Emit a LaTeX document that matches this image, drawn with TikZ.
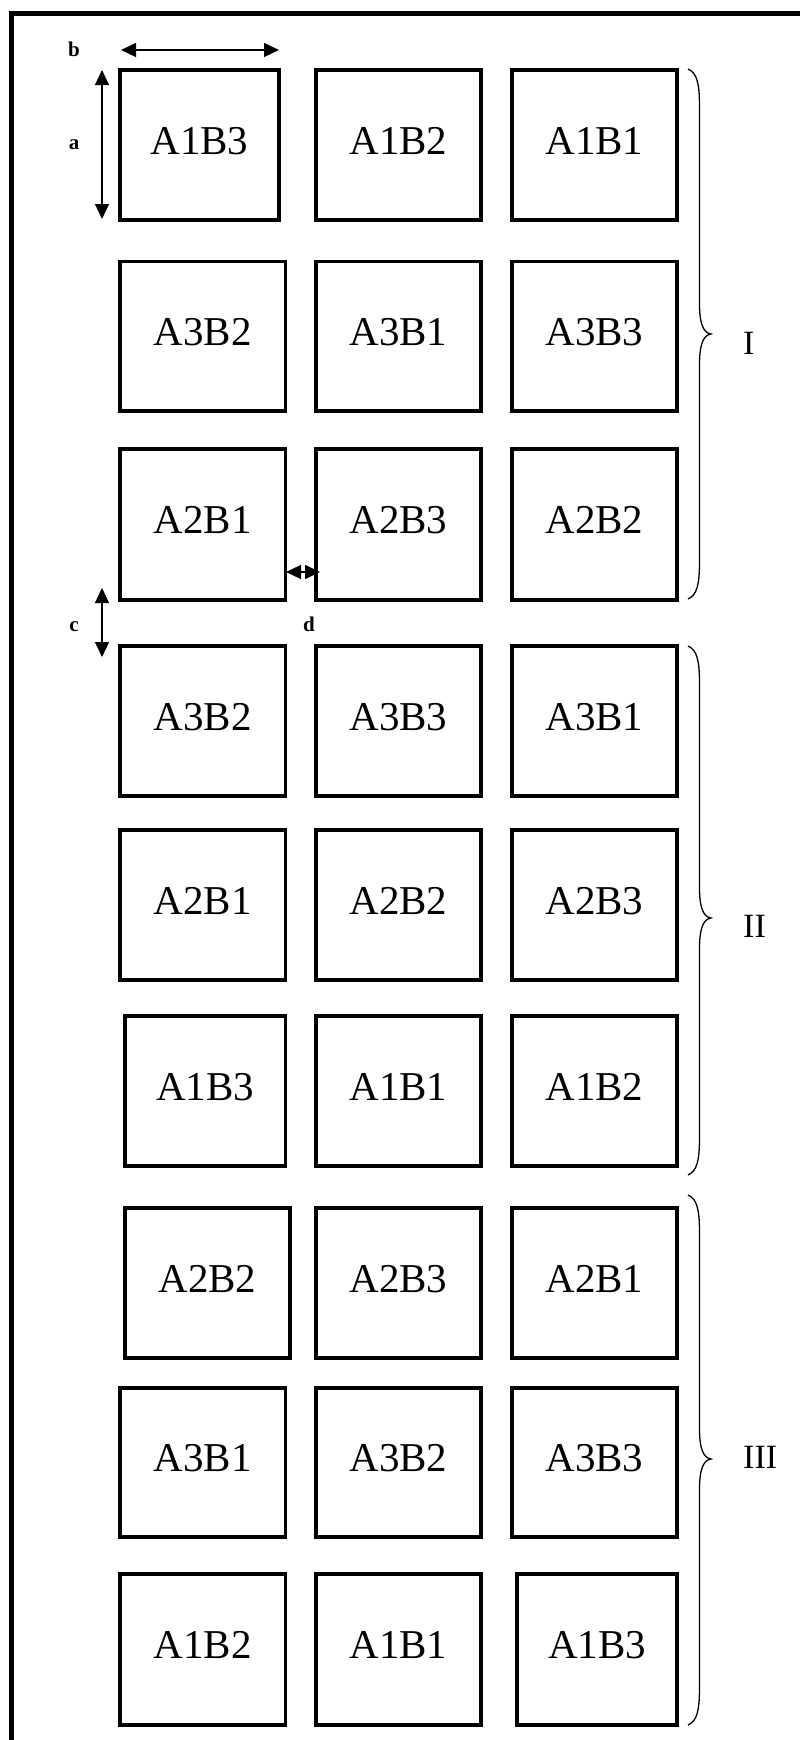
\documentclass[tikz,border=0pt]{standalone}
\usepackage{fontspec}
\setmainfont{Liberation Serif}
\usetikzlibrary{arrows.meta}
\newcommand{\plotcell}[6]{%
  \node[cell, minimum width={(#4-#2)*1pt}, minimum height={(#5-#3)*1pt}] (#1) at ({(#2+#4)/2},{(#3+#5)/2}) {#6};}
\newcommand{\grpbrace}[3]{%
  \draw[brace] (688,#1) .. controls (697,#1+4) and (699.5,#1+14) .. (699.5,#1+38)
    -- (699.5,#2-30) .. controls (699.5,#2-9) and (704,#2-1) .. (711,#2)
    .. controls (704,#2+1) and (699.5,#2+9) .. (699.5,#2+30)
    -- (699.5,#3-38) .. controls (699.5,#3-14) and (697,#3-4) .. (688,#3);}
\begin{document}
\begin{tikzpicture}[x=1pt,y=-1pt,
  cell/.style={draw, line width=3.3pt, inner sep=0pt, font=\fontsize{41}{48}\selectfont, text height=28pt, text depth=10pt},
  dim/.style={line width=1.2pt, {Triangle[length=15pt,width=14pt]}-{Triangle[length=15pt,width=14pt]}},
  dimlabel/.style={font=\fontsize{21}{24}\selectfont\bfseries, inner sep=0pt},
  brace/.style={line width=1.3pt},
  grouplabel/.style={font=\fontsize{34}{40}\selectfont, inner sep=0pt, anchor=west},
  frame/.style={line width=5.5pt, line join=miter}]
\useasboundingbox (0,0) rectangle (800,1740);
\clip (0,0) rectangle (800,1740);
\fill[white] (0,0) rectangle (800,1740);
% outer frame
\draw[frame] (11.5,1800) -- (11.5,13.5) -- (850,13.5);
% group I
\plotcell{r1c1}{120}{70}{279}{220}{A1B3}
\plotcell{r1c2}{316}{70}{481}{220}{A1B2}
\plotcell{r1c3}{512}{70}{677}{220}{A1B1}
\plotcell{r2c1}{120}{261.5}{285.5}{411}{A3B2}
\plotcell{r2c2}{316}{261.5}{481}{411}{A3B1}
\plotcell{r2c3}{512}{261.5}{677}{411}{A3B3}
\plotcell{r3c1}{120}{449}{285.5}{600}{A2B1}
\plotcell{r3c2}{316}{449}{481}{600}{A2B3}
\plotcell{r3c3}{512}{449}{677}{600}{A2B2}
% group II
\plotcell{r4c1}{120}{646}{285.5}{796}{A3B2}
\plotcell{r4c2}{316}{646}{481}{796}{A3B3}
\plotcell{r4c3}{512}{646}{677}{796}{A3B1}
\plotcell{r5c1}{120}{830}{285.5}{980}{A2B1}
\plotcell{r5c2}{316}{830}{481}{980}{A2B2}
\plotcell{r5c3}{512}{830}{677}{980}{A2B3}
\plotcell{r6c1}{125}{1016}{285.5}{1166}{A1B3}
\plotcell{r6c2}{316}{1016}{481}{1166}{A1B1}
\plotcell{r6c3}{512}{1016}{677}{1166}{A1B2}
% group III
\plotcell{r7c1}{125}{1208}{290}{1358}{A2B2}
\plotcell{r7c2}{316}{1208}{481}{1358}{A2B3}
\plotcell{r7c3}{512}{1208}{677}{1358}{A2B1}
\plotcell{r8c1}{120}{1388}{285.5}{1537}{A3B1}
\plotcell{r8c2}{316}{1388}{481}{1537}{A3B2}
\plotcell{r8c3}{512}{1388}{677}{1537}{A3B3}
\plotcell{r9c1}{120}{1574}{285.5}{1725}{A1B2}
\plotcell{r9c2}{316}{1574}{481}{1725}{A1B1}
\plotcell{r9c3}{517}{1574}{677}{1725}{A1B3}
% dimension arrows
\coordinate (b1) at (121,50);
\coordinate (b2) at (279,50);
\draw[dim] (b1) -- (b2);
\node[dimlabel] (lb) at (74,49) {b};
\coordinate (a1) at (102,70);
\coordinate (a2) at (102,219);
\draw[dim] (a1) -- (a2);
\node[dimlabel] (la) at (74,145) {a};
\coordinate (c1) at (102,588);
\coordinate (c2) at (102,657);
\draw[dim] (c1) -- (c2);
\node[dimlabel] (lc) at (74,627) {c};
\coordinate (d1) at (286,572);
\coordinate (d2) at (320,572);
\draw[dim] (d1) -- (d2);
\node[dimlabel] (ld) at (309,624) {d};
% braces
\grpbrace{69}{334}{599}
\grpbrace{646}{918}{1175}
\grpbrace{1195}{1459}{1725}
\node[grouplabel] (gI) at (743,343) {I};
\node[grouplabel] (gII) at (743,926) {II};
\node[grouplabel] (gIII) at (743,1457) {III};
\end{tikzpicture}
\end{document}
